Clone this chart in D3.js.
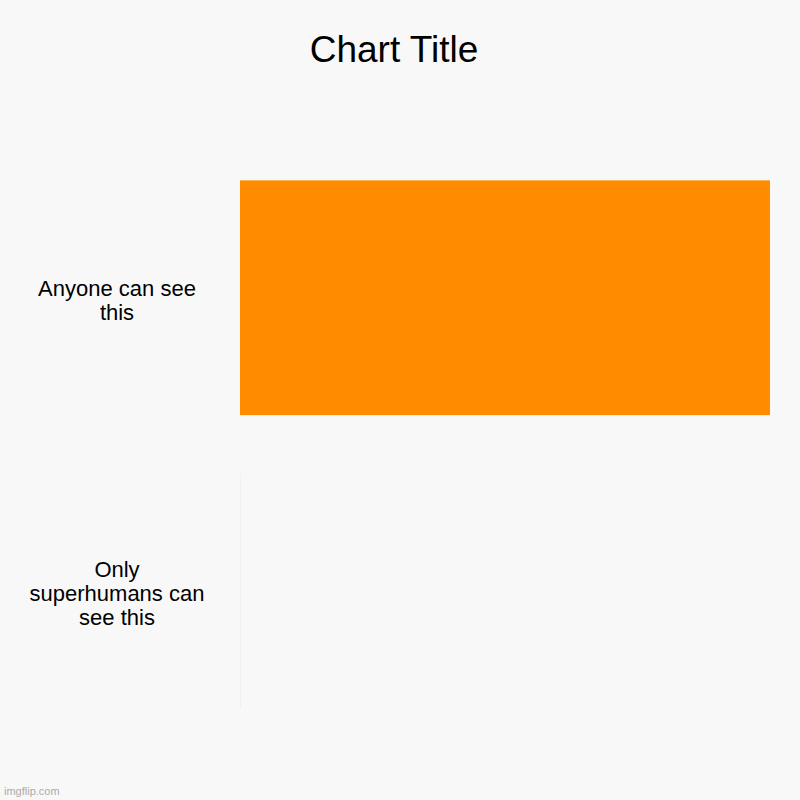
<!DOCTYPE html>
<html>
<head>
<meta charset="utf-8">
<script src="https://cdn.jsdelivr.net/npm/d3@7"></script>
<style>
  html, body { margin: 0; padding: 0; background: #f8f8f8; }
  svg { display: block; }
  text { font-family: "Liberation Sans", Arial, Helvetica, sans-serif; }
</style>
</head>
<body>
<svg id="chart" width="800" height="800"></svg>
<script>
const categories = ["Anyone can see this", "Only superhumans can see this"];
const values = [100, 0.2];
const barColors = ["#ff8c00", "#f1f1f1"];
const title = "Chart Title";

const svg = d3.select("#chart");
svg.append("rect").attr("width", 800).attr("height", 800).attr("fill", "#f8f8f8");

const x = d3.scaleLinear().domain([0, d3.max(values)]).range([240, 770]);
const y = d3.scaleBand().domain(categories).range([151, 738]).paddingInner(0.2).paddingOuter(0.1);

svg.append("text")
  .attr("x", 394).attr("y", 62)
  .attr("text-anchor", "middle")
  .attr("font-size", 37)
  .attr("fill", "#000")
  .text(title);

svg.selectAll("rect.bar")
  .data(categories)
  .join("rect")
  .attr("class", "bar")
  .attr("x", x(0))
  .attr("y", d => y(d))
  .attr("width", (d, i) => Math.max(1, x(values[i]) - x(0)))
  .attr("height", y.bandwidth())
  .attr("fill", (d, i) => barColors[i]);

// wrapped category labels
const fontSize = 22, lineH = 24, maxW = 178;
const measure = svg.append("text")
  .attr("font-size", fontSize)
  .attr("visibility", "hidden");
function textW(s) { measure.text(s); return measure.node().getComputedTextLength(); }

categories.forEach(cat => {
  const words = cat.split(" ");
  const lines = [];
  let cur = "";
  words.forEach(w => {
    const t = cur ? cur + " " + w : w;
    if (textW(t) > maxW && cur) { lines.push(cur); cur = w; } else { cur = t; }
  });
  if (cur) lines.push(cur);
  const cy = y(cat) + y.bandwidth() / 2;
  const firstBase = cy - (lines.length - 1) * lineH / 2 + 10;
  const t = svg.append("text")
    .attr("text-anchor", "middle")
    .attr("font-size", fontSize)
    .attr("fill", "#000");
  lines.forEach((l, i) => {
    t.append("tspan").attr("x", 117).attr("y", firstBase + i * lineH).text(l);
  });
});
measure.remove();

svg.append("text")
  .attr("x", 4).attr("y", 795)
  .attr("font-size", 11)
  .attr("fill", "#aaaaaa")
  .text("imgflip.com");
</script>
</body>
</html>
